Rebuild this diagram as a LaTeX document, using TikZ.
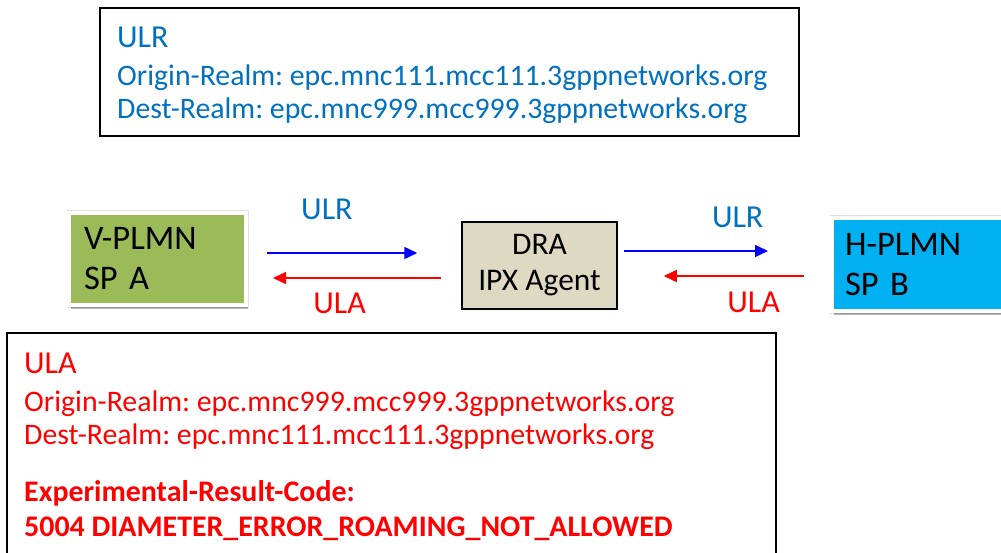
\documentclass[tikz,border=0pt]{standalone}
\usepackage{fontspec}
\setmainfont{Carlito}
\usetikzlibrary{shadows,arrows.meta}

\definecolor{UlrBlue}{HTML}{0070C0}
\definecolor{UlaRed}{HTML}{FF0000}
\definecolor{VGreen}{HTML}{9BBB59}
\definecolor{HCyan}{HTML}{00B0F0}
\definecolor{DraFill}{HTML}{DDD9C3}

\begin{document}
\frenchspacing
\begin{tikzpicture}
[
x=1pt, y=-1pt,
MsgBox/.style={rectangle, draw=black, line width=2pt, inner sep=0pt},
PlmnBox/.style={rectangle, draw=white, line width=4pt, inner xsep=15pt, inner ysep=0pt,
  text width=147pt, align=left, font=\fontsize{34.5}{40}\selectfont,
  preaction={draw=black!12, line width=5pt},
  drop shadow={shadow xshift=1.5pt, shadow yshift=-4pt, opacity=0.3, fill=black}},
DraBox/.style={rectangle, draw=black, line width=1.5pt, fill=DraFill, inner sep=0pt,
  align=center, font=\fontsize{31.5}{36}\selectfont},
UlrText/.style={anchor=base west, inner sep=0pt, text=UlrBlue, font=\fontsize{29.8}{33}\selectfont},
UlaText/.style={anchor=base west, inner sep=0pt, text=UlaRed, font=\fontsize{29.8}{33}\selectfont},
Title/.style={font=\fontsize{32}{36}\selectfont},
Label/.style={inner sep=0pt, font=\fontsize{32}{36}\selectfont},
UlrArrow/.style={draw=blue, line width=1.6pt, -{Triangle[length=13pt,width=12pt]}},
UlaArrow/.style={draw=UlaRed, line width=1.6pt, -{Triangle[length=13pt,width=12pt]}},
]

\useasboundingbox (0,0) rectangle (1001,553);
\clip (0,0) rectangle (1001,553);

% request box
\node[MsgBox, minimum width=699pt, minimum height=128pt] (ulrbox) at (449.5,72) {};
\node[UlrText, Title] (ulrtitle) at (117,48) {ULR};
\node[UlrText] (ulrorig) at (117,86) {Origin-Realm: epc.mnc111.mcc111.3gppnetworks.org};
\node[UlrText] (ulrdest) at (117,119) {Dest-Realm: epc.mnc999.mcc999.3gppnetworks.org};

% network elements
\node[PlmnBox, fill=VGreen, minimum height=92pt] (vplmn) at (157.5,259) {V-PLMN\\SP A};
\node[DraBox, minimum width=155pt, minimum height=87pt] (dra) at (539.5,265.5) {DRA\\IPX Agent};
\node[PlmnBox, fill=HCyan, minimum height=93pt, text width=150pt, inner xsep=13pt] (hplmn) at (920,264.5) {H-PLMN\\SP B};

% messages
\draw[UlrArrow, shorten <=19pt, shorten >=44pt] ([yshift=12.5pt]dra.west -| vplmn.east) -- ([yshift=12.5pt]dra.west)
  node[Label, text=UlrBlue, pos=0.37, above=32pt] (ulrleft) {ULR};
\draw[UlaArrow, shorten <=20pt, shorten >=25pt] ([yshift=-12.5pt]dra.west) -- ([yshift=-12.5pt]dra.west -| vplmn.east)
  node[Label, text=UlaRed, pos=0.57, below=14pt] (ulaleft) {ULA};
\draw[UlrArrow, shorten <=6pt, shorten >=62pt] ([yshift=14.5pt]dra.east) -- ([yshift=14.5pt]dra.east -| hplmn.west)
  node[Label, text=UlrBlue, pos=0.565, above=22pt] (ulrright) {ULR};
\draw[UlaArrow, shorten <=26pt, shorten >=46pt] ([yshift=-10.5pt]dra.east -| hplmn.west) -- ([yshift=-10.5pt]dra.east)
  node[Label, text=UlaRed, pos=0.36, below=15pt] (ularight) {ULA};

% answer box
\node[MsgBox, minimum width=769pt, minimum height=240pt] (ulabox) at (391.5,453) {};
\node[UlaText, Title] (ulatitle) at (24,373) {ULA};
\node[UlaText] (ulaorig) at (24,411) {Origin-Realm: epc.mnc999.mcc999.3gppnetworks.org};
\node[UlaText] (uladest) at (24,444) {Dest-Realm: epc.mnc111.mcc111.3gppnetworks.org};
\node[UlaText, font=\fontsize{29.9}{33}\selectfont\bfseries] (ulacode) at (24,501) {Experimental-Result-Code:};
\node[UlaText, font=\fontsize{29.9}{33}\selectfont\bfseries] (ulaerror) at (24,536) {5004 DIAMETER\_ERROR\_ROAMING\_NOT\_ALLOWED};

\end{tikzpicture}
\end{document}
